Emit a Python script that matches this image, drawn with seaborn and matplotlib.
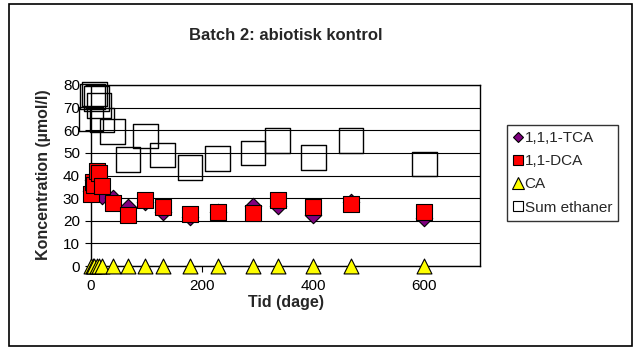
import pandas as pd
import matplotlib
matplotlib.use('Agg')
import matplotlib.pyplot as plt
import seaborn as sns
from matplotlib.lines import Line2D
from matplotlib.patches import Rectangle

# data (days and concentrations in umol/l)
tid = [0, 3, 6, 10, 14, 20, 39, 67, 98, 129, 178, 228, 292, 336, 400, 468, 600]
tca = [33, 38, 39, 40, 38, 31, 30, 26, 28.5, 24, 21.5, 24, 26.5, 26.5, 22.5, 28.5, 21]
dca = [32, 37, 36, 42, 41, 35.5, 28, 22.5, 29, 26, 23, 24, 23.5, 29, 26, 27.5, 24]
ca = [0, 0, 0, 0, 0, 0, 0, 0, 0, 0, 0, 0, 0, 0, 0, 0, 0]
sum_ethaner = [65, 75, 76, 74, 71, 64.5, 59.5, 47, 57.5, 49, 43.5, 47.5, 50, 55.5, 48, 55.5, 45]

series_names = ['1,1,1-TCA', '1,1-DCA', 'CA', 'Sum ethaner']
x_ticks = [0, 200, 400, 600]
y_ticks = [0, 10, 20, 30, 40, 50, 60, 70, 80]

df = pd.DataFrame({'tid': tid, '1,1,1-TCA': tca, '1,1-DCA': dca,
                   'CA': ca, 'Sum ethaner': sum_ethaner})

sns.set_style('white')
plt.rcParams['font.family'] = ['Liberation Sans', 'DejaVu Sans']

fig = plt.figure(figsize=(6.4, 3.5), dpi=100)
ax = fig.add_axes([91/640, 1 - 266/350, 389/640, 181/350])

# marker styles per series
style = {
    '1,1,1-TCA': dict(marker='D', s=70, color='#800080', edgecolor='black', linewidth=0.8),
    '1,1-DCA': dict(marker='s', s=135, color='red', edgecolor='black', linewidth=0.8),
    'CA': dict(marker='^', s=115, color='yellow', edgecolor='black', linewidth=0.8),
    'Sum ethaner': dict(marker='s', s=310, facecolor='none', edgecolor='black', linewidth=1.0),
}

for i, name in enumerate(series_names):
    sns.scatterplot(data=df, x='tid', y=name, ax=ax, legend=False,
                    clip_on=False, zorder=3 + i, **style[name])

ax.set_xlim(0, 700)
ax.set_ylim(0, 80)
ax.set_xticks(x_ticks)
ax.set_yticks(y_ticks)
ax.yaxis.grid(True, color='black', linewidth=0.8)
ax.set_axisbelow(True)
for sp in ax.spines.values():
    sp.set_visible(True)
    sp.set_color('black')
    sp.set_linewidth(1.0)
ax.tick_params(axis='both', labelsize=11, colors='black', direction='out',
               length=4, width=0.8, left=True, bottom=True)
ax.tick_params(axis='x', pad=5)
ax.tick_params(axis='y', pad=4)
ax.set_xlabel('')
ax.set_ylabel('')

fig.text(285.5/640, 1 - 35/350, 'Batch 2: abiotisk kontrol', ha='center', va='center',
         fontsize=12, fontweight='bold')
fig.text(285.5/640, 1 - 302/350, 'Tid (dage)', ha='center', va='center',
         fontsize=11.5, fontweight='bold')
fig.text(44/640, 1 - 175/350, 'Koncentration (µmol/l)', ha='center', va='center',
         rotation=90, fontsize=11.5, fontweight='bold')

handles = [
    Line2D([], [], linestyle='none', marker='D', markersize=5, markerfacecolor='#800080',
           markeredgecolor='black', markeredgewidth=0.8),
    Line2D([], [], linestyle='none', marker='s', markersize=7.5, markerfacecolor='red',
           markeredgecolor='black', markeredgewidth=0.8),
    Line2D([], [], linestyle='none', marker='^', markersize=8, markerfacecolor='yellow',
           markeredgecolor='black', markeredgewidth=0.8),
    Line2D([], [], linestyle='none', marker='s', markersize=7.5, markerfacecolor='white',
           markeredgecolor='black', markeredgewidth=0.8),
]
leg = fig.legend(handles, series_names, loc='upper left',
                 bbox_to_anchor=(507/640, 1 - 125/350), frameon=True, fancybox=False,
                 fontsize=11, handlelength=0.6, handletextpad=0.16, labelspacing=0.6,
                 borderpad=0.4, borderaxespad=0)
leg.get_frame().set_edgecolor('black')
leg.get_frame().set_linewidth(1.0)

# outer chart border
fig.add_artist(Rectangle((9/640, 4/350), 623/640, 342/350, transform=fig.transFigure,
                         fill=False, edgecolor='black', linewidth=1.2))

fig.savefig('out.png', dpi=100)
